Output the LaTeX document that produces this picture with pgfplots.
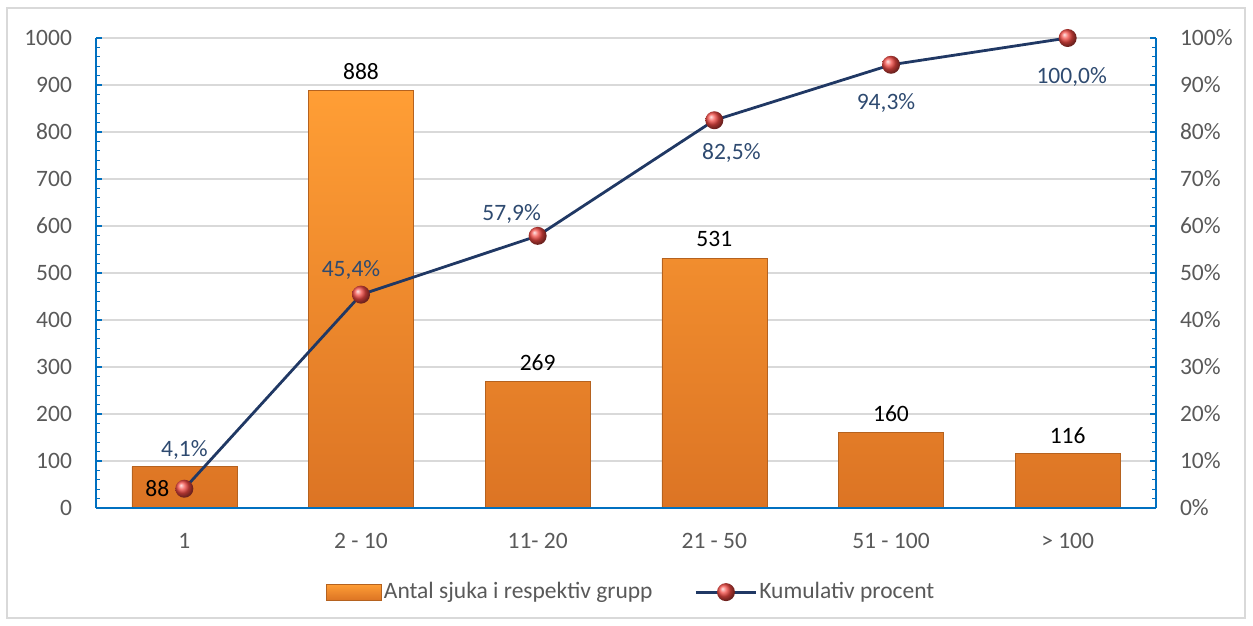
\documentclass[border=0pt]{standalone}
\usepackage{pgfplots}
\usepackage{pgfplotstable}
\pgfplotsset{compat=1.18}
\usepackage{fontspec}
\setmainfont{Carlito}
\definecolor{axblue}{HTML}{0070C0}
\definecolor{gridgray}{HTML}{D9D9D9}
\definecolor{ticktext}{HTML}{595959}
\definecolor{linenavy}{HTML}{203864}
\definecolor{pcttext}{HTML}{2E4A70}
\definecolor{bartop}{HTML}{FF9E35}
\definecolor{barbot}{HTML}{DC7424}
\definecolor{baredge}{HTML}{B5621F}
\definecolor{ballred}{HTML}{F24A44}

\pgfplotstableread{
x y dx dy
0 88 -27 -22
1 888 0 19
2 269 0 19
3 531 0 19
4 160 0 19
5 116 0 18
}\bars

\pgfplotstableread{
x y dx dy
0 4.1 0 39
1 45.4 -10 25
2 57.9 -26 22
3 82.5 17 -33
4 94.3 -5 -38
5 100.0 4 -39
}\cum

\pgfplotsset{base/.style={
  scale only axis, width=1060pt, height=470pt,
  at={(96pt,118pt)}, anchor=south west,
  xmin=-0.5, xmax=5.5, clip=false,
  tick align=inside, major tick length=6pt, minor tick length=4pt,
  tick style={axblue, line width=1.2pt},
  axis line style={axblue, line width=2pt},
  /pgf/number format/assume math mode=true,
  tick label style={text=ticktext},
  /pgf/number format/1000 sep={},
}}

\begin{document}
\fontsize{23.5}{28}\selectfont
\begin{tikzpicture}
\useasboundingbox (0,0) rectangle (1253pt,626pt);
\draw[gridgray, line width=1.5pt] (7pt,8pt) rectangle (1245pt,618pt);
\begin{axis}[base,
  ymin=0, ymax=1000,
  axis x line*=bottom, axis y line*=left,
  xtick={0,...,5},
  xticklabels={1, 2 - 10, 11- 20, 21 - 50, 51 - 100, > 100},
  x tick style={draw=none},
  ytick={0,100,...,1000}, minor y tick num=4,
  ymajorgrids, major grid style={gridgray, line width=1.2pt},
  yticklabel style={xshift=-16pt},
  xticklabel style={yshift=-17pt},
]
\addplot[ybar, bar width=105pt, bar shift=0pt, draw=baredge, line width=0.6pt,
  top color=bartop, bottom color=barbot,
  point meta=y, nodes near coords,
  visualization depends on={\thisrow{dx}\as\dx},
  visualization depends on={\thisrow{dy}\as\dy},
  every node near coord/.append style={text=black, anchor=center, xshift=\dx*1pt, yshift=\dy*1pt},
] table[x=x, y=y] {\bars};
\end{axis}
\begin{axis}[base,
  ymin=0, ymax=100,
  axis x line*=bottom, axis y line*=right,
  xtick=\empty,
  ytick={0,10,...,100}, minor y tick num=4,
  yticklabel={\pgfmathprintnumber{\tick}\%},
  yticklabel style={xshift=16pt},
  legend style={at={(0.505,-0.179)}, anchor=center, draw=none, fill=none,
    legend columns=2, text=ticktext,
    /tikz/every even column/.append style={column sep=40pt}},
]
\addlegendimage{legend image code/.code={\draw[baredge, line width=0.6pt, top color=bartop, bottom color=barbot] (0pt,-8pt) rectangle (55pt,8pt);}}
\addlegendentry{Antal sjuka i respektiv grupp}
\addplot[linenavy, line width=2.8pt, mark=ball, mark size=9pt,
  mark options={ball color=ballred, draw opacity=0, line width=0pt},
  point meta=y,
  nodes near coords={\pgfmathprintnumber[fixed, fixed zerofill, precision=1, use comma]{\pgfplotspointmeta}\%},
  visualization depends on={\thisrow{dx}\as\dx},
  visualization depends on={\thisrow{dy}\as\dy},
  every node near coord/.append style={text=pcttext, anchor=center, xshift=\dx*1pt, yshift=\dy*1pt},
  legend image code/.code={\draw[mark repeat=2, mark phase=2] plot coordinates {(0pt,0pt) (30pt,0pt) (60pt,0pt)};},
] table[x=x, y=y] {\cum};
\addlegendentry{Kumulativ procent}
\end{axis}
\end{tikzpicture}
\end{document}
